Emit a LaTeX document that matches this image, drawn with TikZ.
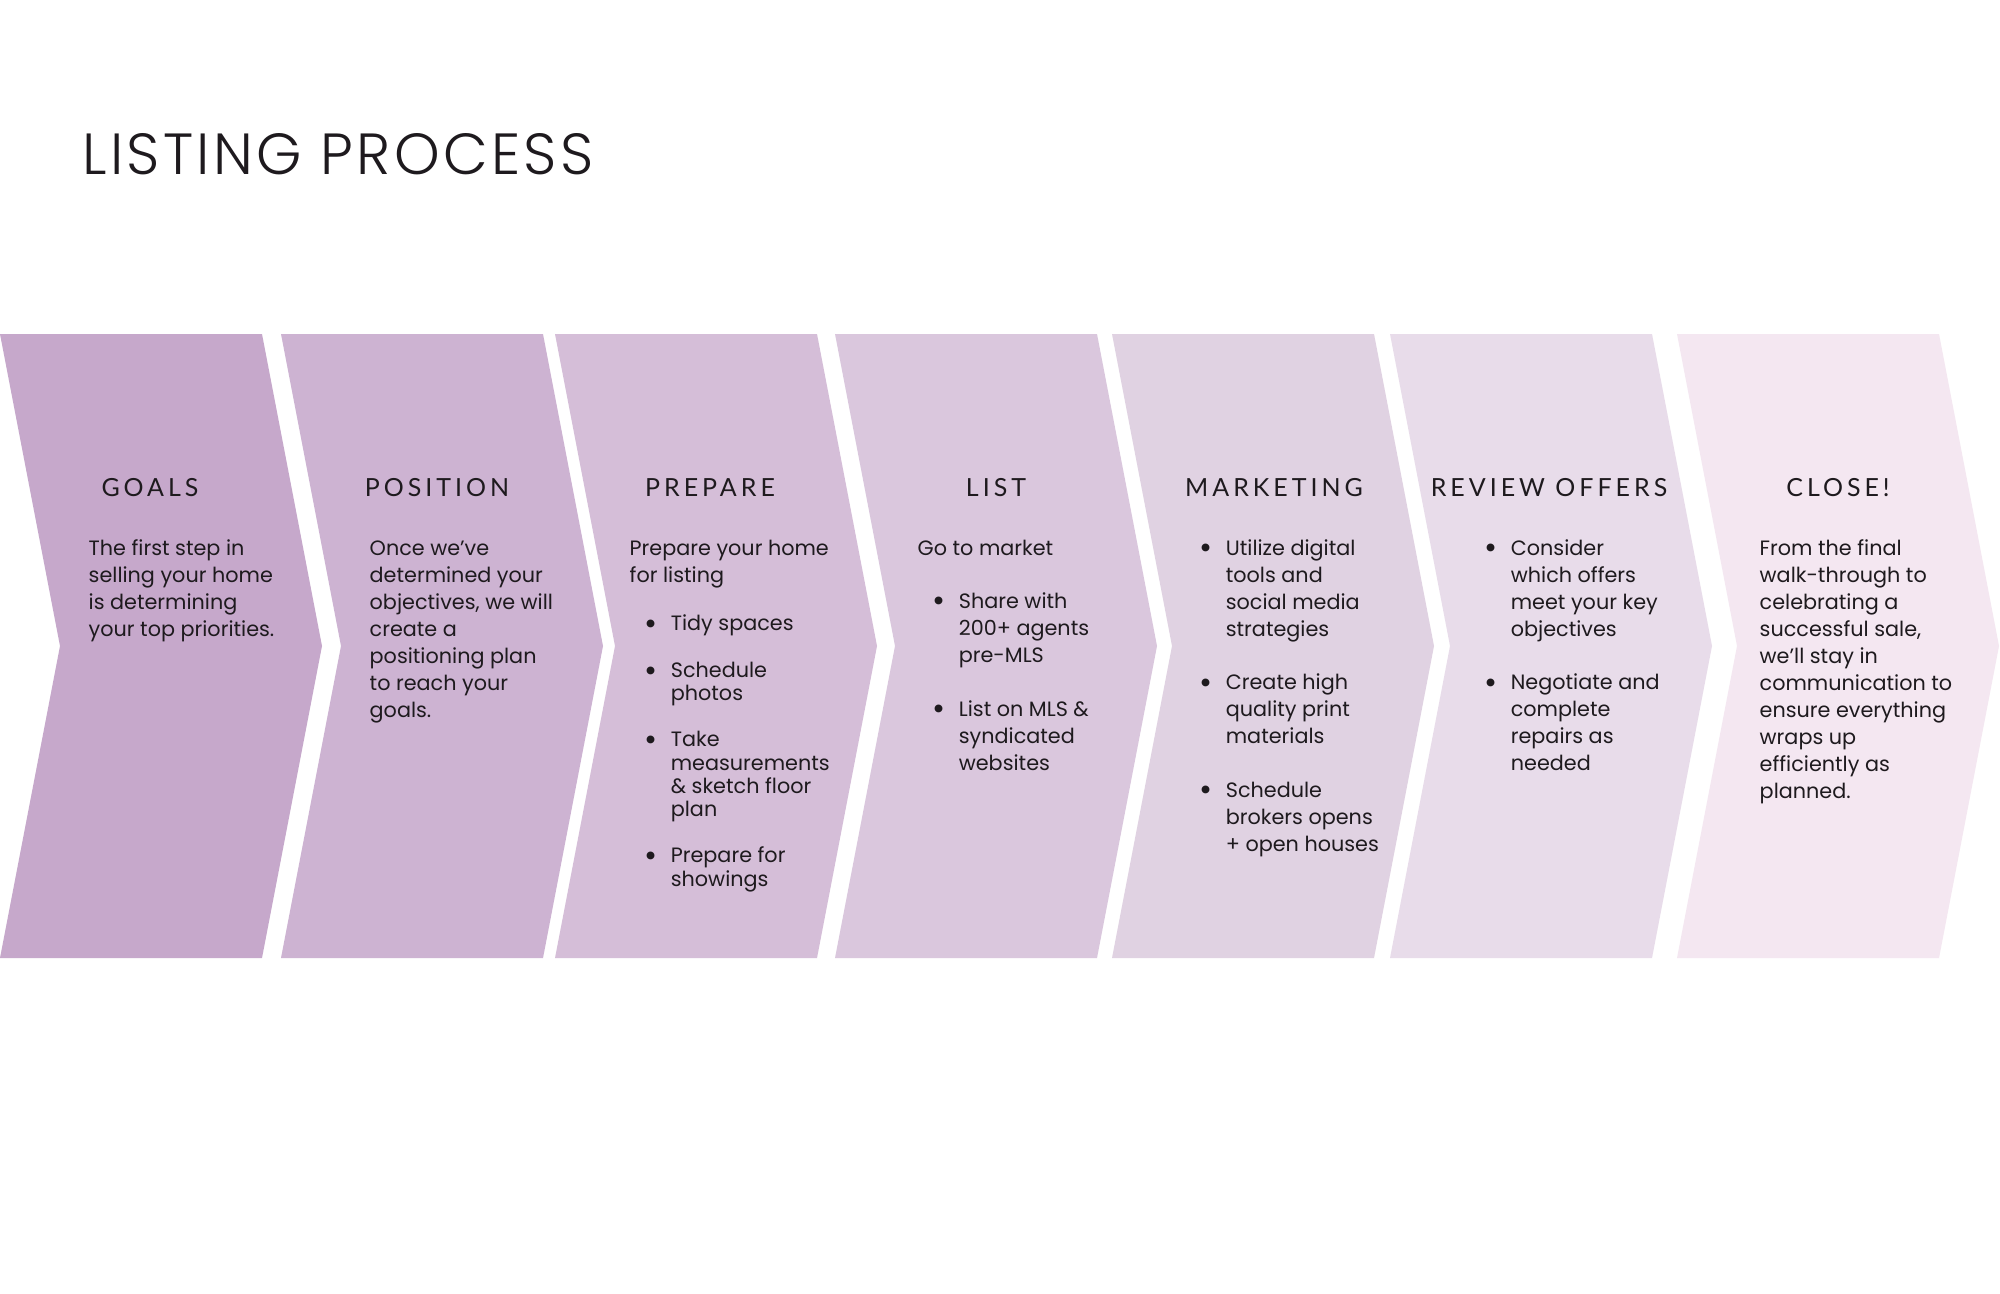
\documentclass[tikz,border=0pt]{standalone}
\usepackage{fontspec}
\setmainfont{Poppins}
\newfontfamily\headfont[LetterSpace=16]{Lato}
\newfontfamily\titlefont[LetterSpace=5.6]{Poppins Light}
\usepackage{xcolor}
\definecolor{stepA}{HTML}{C6A8CB}
\definecolor{stepB}{HTML}{CDB3D2}
\definecolor{stepC}{HTML}{D5BED8}
\definecolor{stepD}{HTML}{DAC7DD}
\definecolor{stepE}{HTML}{E0D2E2}
\definecolor{stepF}{HTML}{E8DCEA}
\definecolor{stepG}{HTML}{F4E7F1}
\definecolor{inktext}{HTML}{1E1A1E}
\newcommand{\dotitem}{\makebox[11.7pt][l]{\hspace{4.1pt}\raisebox{-1pt}{\fontsize{9}{7.7}\selectfont\textbullet}}}
\tikzset{
  pics/chevron/.style = {
    code = {
    \fill[pic actions] (0,0) -- (262,0) -- (322,312) -- (262,624) -- (0,624) -- (60,312) -- cycle;
    }
  },
  stephead/.style = {font=\headfont\fontsize{7.1}{8}\selectfont, anchor=base, inner sep=0pt, text=inktext},
  stepbody/.style = {font=\fontsize{5.9}{7.7}\selectfont, anchor=base west, inner sep=0pt, text=inktext}
}

\begin{document}
\begin{tikzpicture}[x=0.01cm, y=-0.01cm]

  \fill[white] (0,0) rectangle (2000,1294);
  \useasboundingbox (0,0) rectangle (2000,1294);

  \node[anchor=base west, inner sep=0pt, text=inktext, font=\titlefont\fontsize{16.5}{18}\selectfont] (title) at (82,175) {LISTING PROCESS};

  \foreach \x/\c in {0/stepA, 281/stepB, 555/stepC, 835/stepD, 1112/stepE, 1390/stepF, 1677/stepG}{
    \pic[fill=\c] at (\x,334) {chevron};
  }

  \node[stephead] (goals-head) at (150,496) {GOALS};
  \node[stephead] (position-head) at (437,496) {POSITION};
  \node[stephead] (prepare-head) at (710,496) {PREPARE};
  \node[stephead] (list-head) at (996,496) {LIST};
  \node[stephead] (marketing-head) at (1274,496) {MARKETING};
  \node[stephead] (review-head) at (1549,496) {REVIEW OFFERS};
  \node[stephead] (close-head) at (1838,496) {CLOSE!};

  \node[stepbody] (goals-body) at (88,555) {\begin{tabular}[t]{@{}l@{}}
    The first step in\\ selling your home\\ is determining\\ your top priorities.
  \end{tabular}};

  \node[stepbody] (position-body) at (369,555) {\begin{tabular}[t]{@{}l@{}}
    Once we've\\ determined your\\ objectives, we will\\ create a\\ positioning plan\\ to reach your\\ goals.
  \end{tabular}};

  \node[stepbody] (prepare-body) at (629,555) {\begin{tabular}[t]{@{}l@{}l@{}}
    \multicolumn{2}{@{}l@{}}{Prepare your home}\\
    \multicolumn{2}{@{}l@{}}{for listing}\\[6.1pt]
    \dotitem & Tidy spaces\\[5.7pt]
    \dotitem & Schedule\\[-1.2pt]
             & photos\\[5.4pt]
    \dotitem & Take\\[-0.8pt]
             & measurements\\[-1.2pt]
             & \& sketch floor\\[-1.2pt]
             & plan\\[5.4pt]
    \dotitem & Prepare for\\[-0.8pt]
             & showings
  \end{tabular}};

  \node[stepbody] (list-body) at (917,555) {\begin{tabular}[t]{@{}l@{}l@{}}
    \multicolumn{2}{@{}l@{}}{Go to market}\\[7.5pt]
    \dotitem & Share with\\ & 200+ agents\\ & pre-MLS\\[7.5pt]
    \dotitem & List on MLS \&\\ & syndicated\\ & websites
  \end{tabular}};

  \node[stepbody] (marketing-body) at (1184,555) {\begin{tabular}[t]{@{}l@{}l@{}}
    \dotitem & Utilize digital\\ & tools and\\ & social media\\ & strategies\\[7.5pt]
    \dotitem & Create high\\ & quality print\\ & materials\\[7.5pt]
    \dotitem & Schedule\\ & brokers opens\\ & + open houses
  \end{tabular}};

  \node[stepbody] (review-body) at (1469,555) {\begin{tabular}[t]{@{}l@{}l@{}}
    \dotitem & Consider\\ & which offers\\ & meet your key\\ & objectives\\[7.5pt]
    \dotitem & Negotiate and\\ & complete\\ & repairs as\\ & needed
  \end{tabular}};

  \node[stepbody] (close-body) at (1759,555) {\begin{tabular}[t]{@{}l@{}}
    From the final\\ walk-through to\\ celebrating a\\ successful sale,\\ we'll stay in\\ communication to\\ ensure everything\\ wraps up\\ efficiently as\\ planned.
  \end{tabular}};

\end{tikzpicture}
\end{document}
